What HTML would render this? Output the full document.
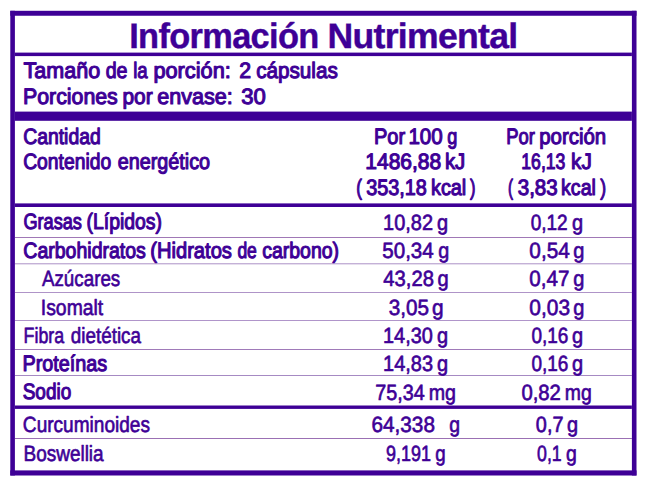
<!DOCTYPE html>
<html><head><meta charset="utf-8"><style>
html,body{margin:0;padding:0;background:#fff;}
svg{display:block;}
text{font-family:"Liberation Sans", sans-serif;fill:#3e0096;white-space:pre;text-rendering:geometricPrecision;}
</style></head><body>
<svg width="646" height="486" viewBox="0 0 646 486">
<rect x="0" y="0" width="646" height="486" fill="#fff"/>
<rect x="14.90" y="237.00" width="617.00" height="1.00" fill="rgb(160,120,182)"/>
<rect x="14.90" y="263.30" width="617.00" height="1.00" fill="rgb(172,145,198)"/>
<rect x="14.90" y="292.00" width="617.00" height="1.00" fill="rgb(175,148,200)"/>
<rect x="14.90" y="320.00" width="617.00" height="1.00" fill="rgb(176,149,202)"/>
<rect x="14.90" y="349.00" width="617.00" height="1.00" fill="rgb(160,122,185)"/>
<rect x="14.90" y="375.00" width="617.00" height="1.00" fill="rgb(166,138,195)"/>
<rect x="14.90" y="438.00" width="617.00" height="1.00" fill="rgb(155,112,180)"/>
<rect x="10.30" y="10.80" width="626.20" height="4.95" fill="#3e0096"/>
<rect x="10.30" y="470.40" width="626.20" height="5.10" fill="#3e0096"/>
<rect x="10.30" y="10.80" width="4.60" height="464.70" fill="#3e0096"/>
<rect x="631.90" y="10.80" width="4.60" height="464.70" fill="#3e0096"/>
<rect x="14.90" y="52.60" width="617.00" height="3.50" fill="#3e0096"/>
<rect x="14.90" y="111.60" width="617.00" height="9.20" fill="#3e0096"/>
<rect x="14.90" y="203.40" width="617.00" height="3.60" fill="#3e0096"/>
<rect x="14.90" y="405.50" width="617.00" height="3.40" fill="#3e0096"/>
<text x="129.21" y="48" font-size="35.4" font-weight="bold" textLength="189.42" lengthAdjust="spacingAndGlyphs" style="letter-spacing:-0.7px;word-spacing:-0.6px" stroke="#3e0096" stroke-width="0.4" stroke-linejoin="round">Información</text>
<text x="327.58" y="48" font-size="35.4" font-weight="bold" textLength="189.85" lengthAdjust="spacingAndGlyphs" style="letter-spacing:-0.7px;word-spacing:-0.6px" stroke="#3e0096" stroke-width="0.4" stroke-linejoin="round">Nutrimental</text>
<text x="23.57" y="78" font-size="22.3" textLength="76.64" lengthAdjust="spacingAndGlyphs" style="letter-spacing:0.0px;word-spacing:-0.6px" stroke="#3e0096" stroke-width="1.1" stroke-linejoin="round">Tamaño</text>
<text x="105.71" y="78" font-size="22.3" textLength="21.84" lengthAdjust="spacingAndGlyphs" style="letter-spacing:0.0px;word-spacing:-0.6px" stroke="#3e0096" stroke-width="1.1" stroke-linejoin="round">de</text>
<text x="133.17" y="78" font-size="22.3" textLength="14.46" lengthAdjust="spacingAndGlyphs" style="letter-spacing:0.0px;word-spacing:-0.6px" stroke="#3e0096" stroke-width="1.1" stroke-linejoin="round">la</text>
<text x="153.42" y="78" font-size="22.3" textLength="77.45" lengthAdjust="spacingAndGlyphs" style="letter-spacing:0.0px;word-spacing:-0.6px" stroke="#3e0096" stroke-width="1.1" stroke-linejoin="round">porción:</text>
<text x="239.25" y="78" font-size="22.3" textLength="11.85" lengthAdjust="spacingAndGlyphs" style="letter-spacing:0.0px;word-spacing:-0.6px" stroke="#3e0096" stroke-width="1.1" stroke-linejoin="round">2</text>
<text x="256.13" y="78" font-size="22.3" textLength="81.62" lengthAdjust="spacingAndGlyphs" style="letter-spacing:0.0px;word-spacing:-0.6px" stroke="#3e0096" stroke-width="1.1" stroke-linejoin="round">cápsulas</text>
<text x="22.98" y="104" font-size="22.3" textLength="94.81" lengthAdjust="spacingAndGlyphs" style="letter-spacing:0.0px;word-spacing:-0.6px" stroke="#3e0096" stroke-width="1.1" stroke-linejoin="round">Porciones</text>
<text x="122.42" y="104" font-size="22.3" textLength="30.19" lengthAdjust="spacingAndGlyphs" style="letter-spacing:0.0px;word-spacing:-0.6px" stroke="#3e0096" stroke-width="1.1" stroke-linejoin="round">por</text>
<text x="157.33" y="104" font-size="22.3" textLength="75.52" lengthAdjust="spacingAndGlyphs" style="letter-spacing:0.0px;word-spacing:-0.6px" stroke="#3e0096" stroke-width="1.1" stroke-linejoin="round">envase:</text>
<text x="241.31" y="104" font-size="22.3" textLength="24.58" lengthAdjust="spacingAndGlyphs" style="letter-spacing:0.0px;word-spacing:-0.6px" stroke="#3e0096" stroke-width="1.1" stroke-linejoin="round">30</text>
<text x="23.15" y="144" font-size="22.3" textLength="77.61" lengthAdjust="spacingAndGlyphs" style="letter-spacing:0.0px;word-spacing:-0.6px" stroke="#3e0096" stroke-width="1.1" stroke-linejoin="round">Cantidad</text>
<text x="23.16" y="169" font-size="22.3" textLength="88.00" lengthAdjust="spacingAndGlyphs" style="letter-spacing:0.0px;word-spacing:-0.6px" stroke="#3e0096" stroke-width="1.1" stroke-linejoin="round">Contenido</text>
<text x="117.72" y="169" font-size="22.3" textLength="92.40" lengthAdjust="spacingAndGlyphs" style="letter-spacing:0.0px;word-spacing:-0.6px" stroke="#3e0096" stroke-width="1.1" stroke-linejoin="round">energético</text>
<text x="373.88" y="144" font-size="22.3" textLength="31.19" lengthAdjust="spacingAndGlyphs" style="letter-spacing:0.0px;word-spacing:-0.6px" stroke="#3e0096" stroke-width="1.1" stroke-linejoin="round">Por</text>
<text x="408.44" y="144" font-size="22.3" textLength="34.30" lengthAdjust="spacingAndGlyphs" style="letter-spacing:0.0px;word-spacing:-0.6px" stroke="#3e0096" stroke-width="1.1" stroke-linejoin="round">100</text>
<text x="447.37" y="144" font-size="22.3" textLength="10.07" lengthAdjust="spacingAndGlyphs" style="letter-spacing:0.0px;word-spacing:-0.6px" stroke="#3e0096" stroke-width="1.1" stroke-linejoin="round">g</text>
<text x="365.31" y="169" font-size="22.3" textLength="75.95" lengthAdjust="spacingAndGlyphs" style="letter-spacing:0.0px;word-spacing:-0.6px" stroke="#3e0096" stroke-width="1.1" stroke-linejoin="round">1486,88</text>
<text x="444.88" y="169" font-size="22.3" textLength="20.43" lengthAdjust="spacingAndGlyphs" style="letter-spacing:0.0px;word-spacing:-0.6px" stroke="#3e0096" stroke-width="1.1" stroke-linejoin="round">kJ</text>
<text x="356.37" y="195" font-size="22.3" textLength="5.69" lengthAdjust="spacingAndGlyphs" style="letter-spacing:0.0px;word-spacing:-0.6px" stroke="#3e0096" stroke-width="1.1" stroke-linejoin="round">(</text>
<text x="366.16" y="195" font-size="22.3" textLength="60.70" lengthAdjust="spacingAndGlyphs" style="letter-spacing:0.0px;word-spacing:-0.6px" stroke="#3e0096" stroke-width="1.1" stroke-linejoin="round">353,18</text>
<text x="430.95" y="195" font-size="22.3" textLength="35.35" lengthAdjust="spacingAndGlyphs" style="letter-spacing:0.0px;word-spacing:-0.6px" stroke="#3e0096" stroke-width="1.1" stroke-linejoin="round">kcal</text>
<text x="469.90" y="195" font-size="22.3" textLength="5.50" lengthAdjust="spacingAndGlyphs" style="letter-spacing:0.0px;word-spacing:-0.6px" stroke="#3e0096" stroke-width="1.1" stroke-linejoin="round">)</text>
<text x="506.32" y="144" font-size="22.3" textLength="28.64" lengthAdjust="spacingAndGlyphs" style="letter-spacing:0.0px;word-spacing:-0.6px" stroke="#3e0096" stroke-width="1.1" stroke-linejoin="round">Por</text>
<text x="539.18" y="144" font-size="22.3" textLength="67.06" lengthAdjust="spacingAndGlyphs" style="letter-spacing:0.0px;word-spacing:-0.6px" stroke="#3e0096" stroke-width="1.1" stroke-linejoin="round">porción</text>
<text x="521.31" y="169" font-size="22.3" textLength="44.09" lengthAdjust="spacingAndGlyphs" style="letter-spacing:0.0px;word-spacing:-0.6px" stroke="#3e0096" stroke-width="1.1" stroke-linejoin="round">16,13</text>
<text x="571.08" y="169" font-size="22.3" textLength="20.71" lengthAdjust="spacingAndGlyphs" style="letter-spacing:0.0px;word-spacing:-0.6px" stroke="#3e0096" stroke-width="1.1" stroke-linejoin="round">kJ</text>
<text x="507.90" y="195" font-size="22.3" textLength="5.02" lengthAdjust="spacingAndGlyphs" style="letter-spacing:0.0px;word-spacing:-0.6px" stroke="#3e0096" stroke-width="1.1" stroke-linejoin="round">(</text>
<text x="517.74" y="195" font-size="22.3" textLength="39.95" lengthAdjust="spacingAndGlyphs" style="letter-spacing:0.0px;word-spacing:-0.6px" stroke="#3e0096" stroke-width="1.1" stroke-linejoin="round">3,83</text>
<text x="561.09" y="195" font-size="22.3" textLength="34.78" lengthAdjust="spacingAndGlyphs" style="letter-spacing:0.0px;word-spacing:-0.6px" stroke="#3e0096" stroke-width="1.1" stroke-linejoin="round">kcal</text>
<text x="600.13" y="195" font-size="22.3" textLength="5.88" lengthAdjust="spacingAndGlyphs" style="letter-spacing:0.0px;word-spacing:-0.6px" stroke="#3e0096" stroke-width="1.1" stroke-linejoin="round">)</text>
<text x="23.40" y="229" font-size="22.3" textLength="58.54" lengthAdjust="spacingAndGlyphs" style="letter-spacing:0.0px;word-spacing:-0.6px" stroke="#3e0096" stroke-width="1.1" stroke-linejoin="round">Grasas</text>
<text x="86.53" y="229" font-size="22.3" textLength="75.48" lengthAdjust="spacingAndGlyphs" style="letter-spacing:0.0px;word-spacing:-0.6px" stroke="#3e0096" stroke-width="1.1" stroke-linejoin="round">(Lípidos)</text>
<text x="383.06" y="230" font-size="22.0" textLength="49.97" lengthAdjust="spacingAndGlyphs" style="letter-spacing:0.0px;word-spacing:-0.6px" stroke="#3e0096" stroke-width="0.65" stroke-linejoin="round">10,82</text>
<text x="437.02" y="230" font-size="22.0" textLength="11.14" lengthAdjust="spacingAndGlyphs" style="letter-spacing:0.0px;word-spacing:-0.6px" stroke="#3e0096" stroke-width="0.65" stroke-linejoin="round">g</text>
<text x="530.69" y="230" font-size="22.0" textLength="37.01" lengthAdjust="spacingAndGlyphs" style="letter-spacing:0.0px;word-spacing:-0.6px" stroke="#3e0096" stroke-width="0.65" stroke-linejoin="round">0,12</text>
<text x="572.02" y="230" font-size="22.0" textLength="11.14" lengthAdjust="spacingAndGlyphs" style="letter-spacing:0.0px;word-spacing:-0.6px" stroke="#3e0096" stroke-width="0.65" stroke-linejoin="round">g</text>
<text x="23.30" y="258" font-size="22.3" textLength="122.59" lengthAdjust="spacingAndGlyphs" style="letter-spacing:0.0px;word-spacing:-0.6px" stroke="#3e0096" stroke-width="1.1" stroke-linejoin="round">Carbohidratos</text>
<text x="150.22" y="258" font-size="22.3" textLength="81.71" lengthAdjust="spacingAndGlyphs" style="letter-spacing:0.0px;word-spacing:-0.6px" stroke="#3e0096" stroke-width="1.1" stroke-linejoin="round">(Hidratos</text>
<text x="237.38" y="258" font-size="22.3" textLength="19.47" lengthAdjust="spacingAndGlyphs" style="letter-spacing:0.0px;word-spacing:-0.6px" stroke="#3e0096" stroke-width="1.1" stroke-linejoin="round">de</text>
<text x="262.15" y="258" font-size="22.3" textLength="76.91" lengthAdjust="spacingAndGlyphs" style="letter-spacing:0.0px;word-spacing:-0.6px" stroke="#3e0096" stroke-width="1.1" stroke-linejoin="round">carbono)</text>
<text x="382.29" y="258" font-size="22.0" textLength="51.47" lengthAdjust="spacingAndGlyphs" style="letter-spacing:0.0px;word-spacing:-0.6px" stroke="#3e0096" stroke-width="0.65" stroke-linejoin="round">50,34</text>
<text x="438.29" y="258" font-size="22.0" textLength="11.02" lengthAdjust="spacingAndGlyphs" style="letter-spacing:0.0px;word-spacing:-0.6px" stroke="#3e0096" stroke-width="0.65" stroke-linejoin="round">g</text>
<text x="529.34" y="258" font-size="22.0" textLength="40.43" lengthAdjust="spacingAndGlyphs" style="letter-spacing:0.0px;word-spacing:-0.6px" stroke="#3e0096" stroke-width="0.65" stroke-linejoin="round">0,54</text>
<text x="573.22" y="258" font-size="22.0" textLength="11.15" lengthAdjust="spacingAndGlyphs" style="letter-spacing:0.0px;word-spacing:-0.6px" stroke="#3e0096" stroke-width="0.65" stroke-linejoin="round">g</text>
<text x="41.90" y="286" font-size="22.0" textLength="78.36" lengthAdjust="spacingAndGlyphs" style="letter-spacing:0.0px;word-spacing:-0.6px" stroke="#3e0096" stroke-width="0.65" stroke-linejoin="round">Azúcares</text>
<text x="383.36" y="286" font-size="22.0" textLength="50.58" lengthAdjust="spacingAndGlyphs" style="letter-spacing:0.0px;word-spacing:-0.6px" stroke="#3e0096" stroke-width="0.65" stroke-linejoin="round">43,28</text>
<text x="437.47" y="286" font-size="22.0" textLength="11.17" lengthAdjust="spacingAndGlyphs" style="letter-spacing:0.0px;word-spacing:-0.6px" stroke="#3e0096" stroke-width="0.65" stroke-linejoin="round">g</text>
<text x="529.37" y="286" font-size="22.0" textLength="40.08" lengthAdjust="spacingAndGlyphs" style="letter-spacing:0.0px;word-spacing:-0.6px" stroke="#3e0096" stroke-width="0.65" stroke-linejoin="round">0,47</text>
<text x="573.22" y="286" font-size="22.0" textLength="11.15" lengthAdjust="spacingAndGlyphs" style="letter-spacing:0.0px;word-spacing:-0.6px" stroke="#3e0096" stroke-width="0.65" stroke-linejoin="round">g</text>
<text x="40.79" y="315" font-size="22.0" textLength="62.46" lengthAdjust="spacingAndGlyphs" style="letter-spacing:0.0px;word-spacing:-0.6px" stroke="#3e0096" stroke-width="0.65" stroke-linejoin="round">Isomalt</text>
<text x="388.66" y="315" font-size="22.0" textLength="40.28" lengthAdjust="spacingAndGlyphs" style="letter-spacing:0.0px;word-spacing:-0.6px" stroke="#3e0096" stroke-width="0.65" stroke-linejoin="round">3,05</text>
<text x="432.08" y="315" font-size="22.0" textLength="11.59" lengthAdjust="spacingAndGlyphs" style="letter-spacing:0.0px;word-spacing:-0.6px" stroke="#3e0096" stroke-width="0.65" stroke-linejoin="round">g</text>
<text x="529.33" y="315" font-size="22.0" textLength="40.68" lengthAdjust="spacingAndGlyphs" style="letter-spacing:0.0px;word-spacing:-0.6px" stroke="#3e0096" stroke-width="0.65" stroke-linejoin="round">0,03</text>
<text x="573.22" y="315" font-size="22.0" textLength="11.15" lengthAdjust="spacingAndGlyphs" style="letter-spacing:0.0px;word-spacing:-0.6px" stroke="#3e0096" stroke-width="0.65" stroke-linejoin="round">g</text>
<text x="23.58" y="343" font-size="22.0" textLength="40.53" lengthAdjust="spacingAndGlyphs" style="letter-spacing:0.0px;word-spacing:-0.6px" stroke="#3e0096" stroke-width="0.65" stroke-linejoin="round">Fibra</text>
<text x="70.84" y="343" font-size="22.0" textLength="70.16" lengthAdjust="spacingAndGlyphs" style="letter-spacing:0.0px;word-spacing:-0.6px" stroke="#3e0096" stroke-width="0.65" stroke-linejoin="round">dietética</text>
<text x="383.07" y="343" font-size="22.0" textLength="49.78" lengthAdjust="spacingAndGlyphs" style="letter-spacing:0.0px;word-spacing:-0.6px" stroke="#3e0096" stroke-width="0.65" stroke-linejoin="round">14,30</text>
<text x="437.02" y="343" font-size="22.0" textLength="11.14" lengthAdjust="spacingAndGlyphs" style="letter-spacing:0.0px;word-spacing:-0.6px" stroke="#3e0096" stroke-width="0.65" stroke-linejoin="round">g</text>
<text x="531.40" y="343" font-size="22.0" textLength="36.88" lengthAdjust="spacingAndGlyphs" style="letter-spacing:0.0px;word-spacing:-0.6px" stroke="#3e0096" stroke-width="0.65" stroke-linejoin="round">0,16</text>
<text x="572.02" y="343" font-size="22.0" textLength="11.14" lengthAdjust="spacingAndGlyphs" style="letter-spacing:0.0px;word-spacing:-0.6px" stroke="#3e0096" stroke-width="0.65" stroke-linejoin="round">g</text>
<text x="22.48" y="371" font-size="22.3" textLength="84.70" lengthAdjust="spacingAndGlyphs" style="letter-spacing:0.0px;word-spacing:-0.6px" stroke="#3e0096" stroke-width="1.1" stroke-linejoin="round">Proteínas</text>
<text x="383.06" y="371" font-size="22.0" textLength="49.95" lengthAdjust="spacingAndGlyphs" style="letter-spacing:0.0px;word-spacing:-0.6px" stroke="#3e0096" stroke-width="0.65" stroke-linejoin="round">14,83</text>
<text x="437.02" y="371" font-size="22.0" textLength="11.14" lengthAdjust="spacingAndGlyphs" style="letter-spacing:0.0px;word-spacing:-0.6px" stroke="#3e0096" stroke-width="0.65" stroke-linejoin="round">g</text>
<text x="531.40" y="371" font-size="22.0" textLength="36.88" lengthAdjust="spacingAndGlyphs" style="letter-spacing:0.0px;word-spacing:-0.6px" stroke="#3e0096" stroke-width="0.65" stroke-linejoin="round">0,16</text>
<text x="572.02" y="371" font-size="22.0" textLength="11.14" lengthAdjust="spacingAndGlyphs" style="letter-spacing:0.0px;word-spacing:-0.6px" stroke="#3e0096" stroke-width="0.65" stroke-linejoin="round">g</text>
<text x="22.70" y="399" font-size="22.3" textLength="48.54" lengthAdjust="spacingAndGlyphs" style="letter-spacing:0.0px;word-spacing:-0.6px" stroke="#3e0096" stroke-width="1.1" stroke-linejoin="round">Sodio</text>
<text x="375.21" y="400" font-size="22.0" textLength="49.45" lengthAdjust="spacingAndGlyphs" style="letter-spacing:0.0px;word-spacing:-0.6px" stroke="#3e0096" stroke-width="0.65" stroke-linejoin="round">75,34</text>
<text x="428.73" y="400" font-size="22.0" textLength="27.28" lengthAdjust="spacingAndGlyphs" style="letter-spacing:0.0px;word-spacing:-0.6px" stroke="#3e0096" stroke-width="0.65" stroke-linejoin="round">mg</text>
<text x="521.38" y="400" font-size="22.0" textLength="39.53" lengthAdjust="spacingAndGlyphs" style="letter-spacing:0.0px;word-spacing:-0.6px" stroke="#3e0096" stroke-width="0.65" stroke-linejoin="round">0,82</text>
<text x="564.75" y="400" font-size="22.0" textLength="26.99" lengthAdjust="spacingAndGlyphs" style="letter-spacing:0.0px;word-spacing:-0.6px" stroke="#3e0096" stroke-width="0.65" stroke-linejoin="round">mg</text>
<text x="22.87" y="432" font-size="22.0" textLength="127.14" lengthAdjust="spacingAndGlyphs" style="letter-spacing:0.0px;word-spacing:-0.6px" stroke="#3e0096" stroke-width="0.65" stroke-linejoin="round">Curcuminoides</text>
<text x="371.56" y="432" font-size="22.0" textLength="63.36" lengthAdjust="spacingAndGlyphs" style="letter-spacing:0.0px;word-spacing:-0.6px" stroke="#3e0096" stroke-width="0.65" stroke-linejoin="round">64,338</text>
<text x="449.15" y="432" font-size="22.0" textLength="10.80" lengthAdjust="spacingAndGlyphs" style="letter-spacing:0.0px;word-spacing:-0.6px" stroke="#3e0096" stroke-width="0.65" stroke-linejoin="round">g</text>
<text x="535.86" y="432" font-size="22.0" textLength="27.58" lengthAdjust="spacingAndGlyphs" style="letter-spacing:0.0px;word-spacing:-0.6px" stroke="#3e0096" stroke-width="0.65" stroke-linejoin="round">0,7</text>
<text x="566.99" y="432" font-size="22.0" textLength="11.12" lengthAdjust="spacingAndGlyphs" style="letter-spacing:0.0px;word-spacing:-0.6px" stroke="#3e0096" stroke-width="0.65" stroke-linejoin="round">g</text>
<text x="23.48" y="461" font-size="22.0" textLength="80.17" lengthAdjust="spacingAndGlyphs" style="letter-spacing:0.0px;word-spacing:-0.6px" stroke="#3e0096" stroke-width="0.65" stroke-linejoin="round">Boswellia</text>
<text x="386.08" y="461" font-size="22.0" textLength="44.98" lengthAdjust="spacingAndGlyphs" style="letter-spacing:0.0px;word-spacing:-0.6px" stroke="#3e0096" stroke-width="0.65" stroke-linejoin="round">9,191</text>
<text x="435.33" y="461" font-size="22.0" textLength="10.41" lengthAdjust="spacingAndGlyphs" style="letter-spacing:0.0px;word-spacing:-0.6px" stroke="#3e0096" stroke-width="0.65" stroke-linejoin="round">g</text>
<text x="537.05" y="461" font-size="22.0" textLength="24.65" lengthAdjust="spacingAndGlyphs" style="letter-spacing:0.0px;word-spacing:-0.6px" stroke="#3e0096" stroke-width="0.65" stroke-linejoin="round">0,1</text>
<text x="565.97" y="461" font-size="22.0" textLength="10.83" lengthAdjust="spacingAndGlyphs" style="letter-spacing:0.0px;word-spacing:-0.6px" stroke="#3e0096" stroke-width="0.65" stroke-linejoin="round">g</text>
</svg>
</body></html>
